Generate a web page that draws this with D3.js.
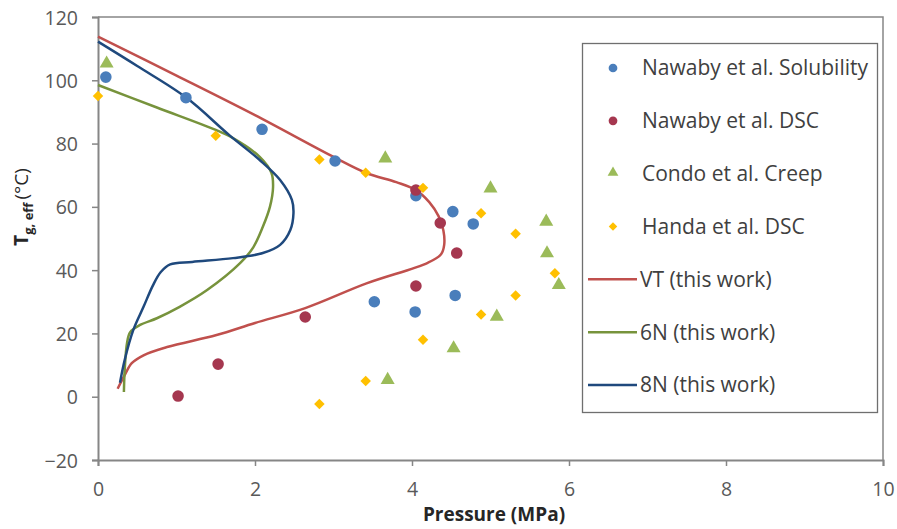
<!DOCTYPE html>
<html>
<head>
<meta charset="utf-8">
<script src="https://cdn.jsdelivr.net/npm/d3@7"></script>
<style>
  body { margin: 0; background: #fff; }
  svg { font-family: "Open Sans", sans-serif; }
</style>
</head>
<body>
<svg id="chart" width="897" height="529"></svg>
<script>
// measured data (pressure in MPa, temperature in C)
const solP = [0.10, 1.12, 2.09, 3.02, 4.05, 4.52, 4.78, 3.52, 4.04, 4.55]
const solT = [101, 94.5, 84.5, 74.5, 63.5, 58.5, 54.6, 30, 26.8, 32]

const dscP = [4.05, 4.36, 4.57, 4.05, 2.64, 1.53, 1.02]
const dscT = [65.3, 54.9, 45.4, 35, 25.2, 10.3, 0.2]

const creepP = [0.11, 3.66, 5.0, 5.71, 5.72, 5.87, 5.08, 4.53, 3.69]
const creepT = [105, 75, 65.5, 55, 45, 35, 25, 15, 5]

const handaP = [0, 1.5, 2.82, 3.41, 4.14, 4.88, 5.32, 5.82, 5.32, 4.88, 4.14, 3.41, 2.82]
const handaT = [95, 82.5, 75, 70.8, 66, 58, 51.5, 39, 32, 26, 18, 5, -2.3]

const vtP = [0, 1.0, 2.0, 3.0, 3.42, 3.8, 4.05, 4.22, 4.34, 4.40, 4.41, 4.37, 4.2, 3.42, 2.64, 2.0, 1.51, 0.88, 0.58, 0.43, 0.34, 0.25]
const vtT = [113.8, 101.5, 89.0, 75.8, 70.7, 67.8, 65.3, 61.5, 57, 52.5, 48, 45, 42.3, 35.8, 28, 23.3, 19.5, 15.7, 13.1, 10.6, 6.8, 2.5]

const n6P = [0, 0.75, 1.5, 1.72, 2.06, 2.21, 2.23, 2.19, 2.1, 1.98, 1.81, 1.39, 1.04, 0.75, 0.53, 0.41, 0.37, 0.34, 0.33]
const n6T = [98.5, 91.4, 84.3, 81.7, 75.8, 70.7, 66.3, 60, 53.7, 47.3, 42.2, 33.7, 28.4, 24.8, 22.6, 20.4, 17, 8.4, 1.5]

const n8P = [0, 0.5, 1.12, 1.68, 2.06, 2.32, 2.47, 2.49, 2.45, 2.32, 2.1, 1.72, 1.2, 0.92, 0.8, 0.7, 0.58, 0.45, 0.34, 0.28]
const n8T = [112.2, 104.5, 94.6, 82.5, 74.8, 68.5, 62.2, 58, 52.7, 48, 45.4, 43.8, 42.6, 41.8, 39.4, 35.2, 28.4, 21.1, 11.6, 4.4]

const xTicks = [0, 2, 4, 6, 8, 10]
const yTicks = [-20, 0, 20, 40, 60, 80, 100, 120]

const zip = (a, b) => a.map((v, i) => ({ p: v, t: b[i] }))

const svg = d3.select('#chart')

let x = d3.scaleLinear().domain([0, 10]).range([98, 883]),
    y = d3.scaleLinear().domain([-20, 120]).range([460, 17])

const axisColor = '#868686',
    tickText = '#595959'

// frame (top + right)
svg.append('path')
    .attr('d', `M${x(0)},${y(120)}H${x(10)}V${y(-20)}`)
    .attr('fill', 'none')
    .attr('stroke', axisColor)
    .attr('stroke-width', 1.5)

// axes
let xAxis = svg.append('g')
    .attr('transform', `translate(0,${y(-20)})`)
    .call(d3.axisBottom(x).tickValues(xTicks).tickSize(6).tickPadding(16).tickFormat(d3.format('d')))

let yAxis = svg.append('g')
    .attr('transform', `translate(${x(0)},0)`)
    .call(d3.axisLeft(y).tickValues(yTicks).tickSize(6).tickPadding(14).tickFormat(d3.format('d')))

for (let ax of [xAxis, yAxis]) {
    ax.select('.domain').attr('stroke', axisColor).attr('stroke-width', 2)
    ax.selectAll('.tick line').attr('stroke', axisColor).attr('stroke-width', 1.5)
    ax.selectAll('.tick text')
        .attr('fill', tickText)
        .style('font-size', '19.5px')
        .style('font-family', '"Open Sans", sans-serif')
}
yAxis.selectAll('.tick text').attr('dy', '0.36em')

// curves
const line = d3.line()
    .x(d => x(d.p))
    .y(d => y(d.t))
    .curve(d3.curveCatmullRom.alpha(0.5))

const curves = [
    { data: zip(vtP, vtT), color: '#C0504D', name: 'VT (this work)' },
    { data: zip(n6P, n6T), color: '#77933C', name: '6N (this work)' },
    { data: zip(n8P, n8T), color: '#1F497D', name: '8N (this work)' }
]

svg.append('g')
    .selectAll('path')
    .data(curves)
    .enter()
    .append('path')
    .attr('d', d => line(d.data))
    .attr('fill', 'none')
    .attr('stroke', d => d.color)
    .attr('stroke-width', 2.5)

// markers
const symbols = {
    circle: d3.symbol().type(d3.symbolCircle),
    triangle: d3.symbol().type(d3.symbolTriangle),
    diamond: d3.symbol().type(d3.symbolSquare)
}

const series = [
    { data: zip(solP, solT), color: '#4A7EBB', shape: 'circle', size: 105, lsize: 60, name: 'Nawaby et al. Solubility' },
    { data: zip(dscP, dscT), color: '#A5374F', shape: 'circle', size: 105, lsize: 60, name: 'Nawaby et al. DSC' },
    { data: zip(creepP, creepT), color: '#9BBB59', shape: 'triangle', size: 85, lsize: 50, name: 'Condo et al. Creep' },
    { data: zip(handaP, handaT), color: '#FFC000', shape: 'diamond', size: 55, lsize: 36, name: 'Handa et al. DSC' }
]

const place = (s, px, py) =>
    `translate(${px},${py + (s.shape === 'triangle' ? -1 : 0)})${s.shape === 'diamond' ? ' rotate(45)' : ''}`

series.forEach(s => {
    svg.append('g')
        .selectAll('path')
        .data(s.data)
        .enter()
        .append('path')
        .attr('d', symbols[s.shape].size(s.size)())
        .attr('fill', s.color)
        .attr('transform', d => place(s, x(d.p), y(d.t)))
})

// legend
let legend = svg.append('g')

legend.append('rect')
    .attr('x', 582.5)
    .attr('y', 43.5)
    .attr('width', 295)
    .attr('height', 369)
    .attr('fill', '#fff')
    .attr('stroke', '#6f6f6f')
    .attr('stroke-width', 1.3)

const rowY = d3.scalePoint().domain(d3.range(7)).range([68, 385])

series.forEach((s, i) => {
    legend.append('path')
        .attr('d', symbols[s.shape].size(s.lsize)())
        .attr('fill', s.color)
        .attr('transform', place(s, 613, rowY(i)))
})

curves.forEach((c, i) => {
    legend.append('line')
        .attr('x1', 588).attr('x2', 637)
        .attr('y1', rowY(i + 4)).attr('y2', rowY(i + 4))
        .attr('stroke', c.color)
        .attr('stroke-width', 2.5)
})

legend.selectAll('text')
    .data(series.map(s => s.name).concat(curves.map(c => c.name)))
    .enter()
    .append('text')
    .attr('x', (d, i) => i < 4 ? 642 : 640)
    .attr('y', (d, i) => rowY(i))
    .attr('dy', '0.35em')
    .attr('fill', '#404040')
    .style('font-size', '21px')
    .text(d => d)

// axis titles
svg.append('text')
    .attr('x', 494)
    .attr('y', 521)
    .attr('text-anchor', 'middle')
    .attr('fill', '#262626')
    .style('font-size', '19px')
    .style('font-weight', 'bold')
    .text('Pressure (MPa)')

let yTitle = svg.append('text')
    .attr('transform', 'translate(28,207) rotate(-90)')
    .attr('text-anchor', 'middle')
    .attr('fill', '#262626')
    .style('font-size', '19px')
    .style('font-weight', 'bold')

yTitle.append('tspan').text('T')
yTitle.append('tspan').attr('dy', 5).style('font-size', '13px').text('g, eff')
yTitle.append('tspan').attr('dy', -5).attr('dx', 3).style('font-weight', 'normal').text('(°C)')
</script>
</body>
</html>
